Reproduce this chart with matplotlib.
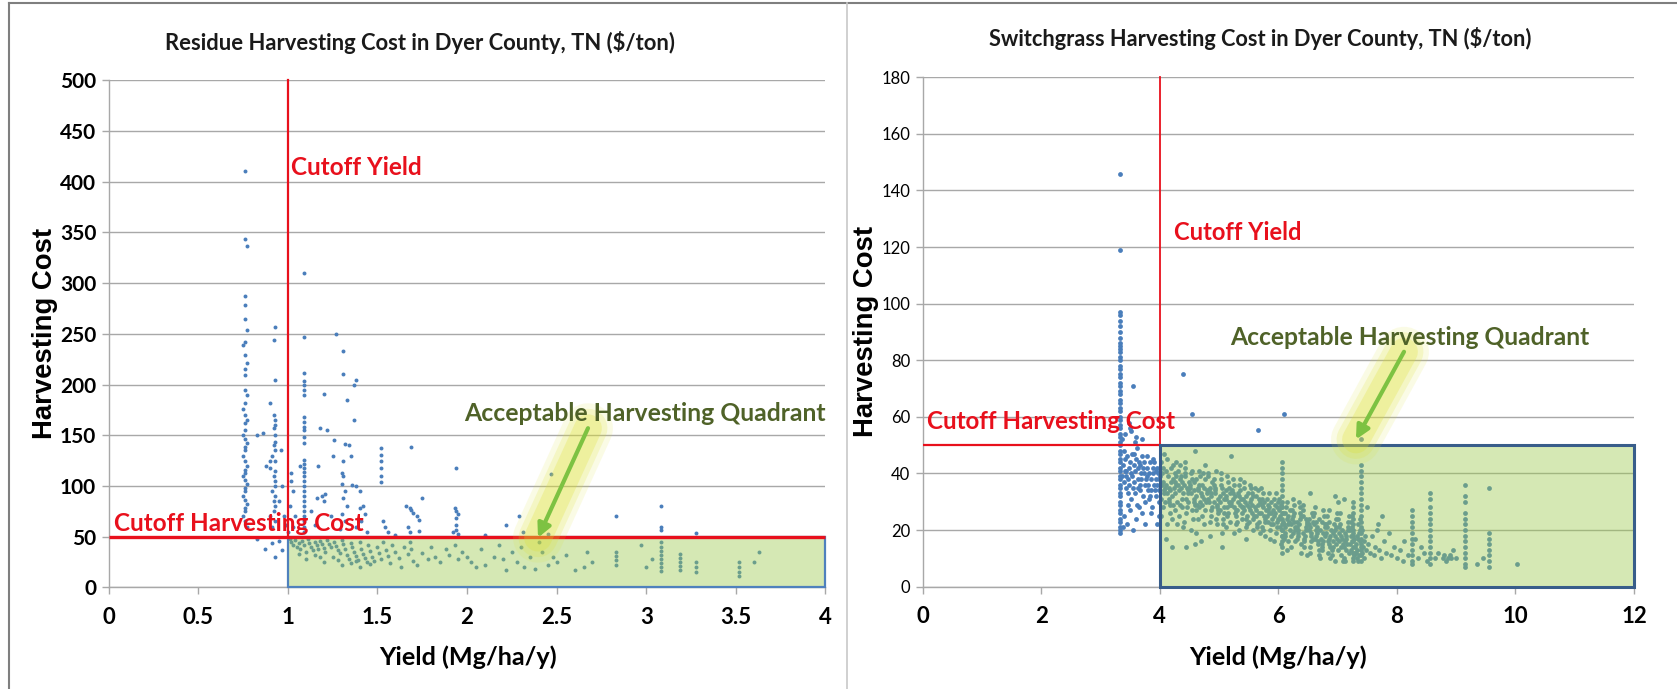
import matplotlib.pyplot as plt
from matplotlib.patches import Rectangle
from matplotlib.lines import Line2D

# =====================================================================
# DATA
# =====================================================================
RES_XTICKS = [0, 0.5, 1, 1.5, 2, 2.5, 3, 3.5, 4]
RES_YTICKS = [0, 50, 100, 150, 200, 250, 300, 350, 400, 450, 500]
SG_XTICKS = [0, 2, 4, 6, 8, 10, 12]
SG_YTICKS = [0, 20, 40, 60, 80, 100, 120, 140, 160, 180]

RES_CUTOFF_YIELD = 1.0
SG_CUTOFF_YIELD = 4.0
CUTOFF_COST = 50

# residue: tall column near 0.76 Mg/ha/y
res_col1_y = [411, 344, 337, 287, 278, 265, 254, 242, 239, 229, 221, 215, 209,
              195, 190, 182, 176, 170, 165, 162, 155, 150, 146, 142, 138, 135,
              130, 125, 120, 116, 113, 110, 106, 102, 98, 95, 90, 86, 82, 78,
              75, 70, 65, 60]
res_col1_x = [0.76, 0.76, 0.77, 0.76, 0.76, 0.76, 0.77, 0.76, 0.75, 0.76, 0.77,
              0.76, 0.76, 0.76, 0.77, 0.76, 0.75, 0.76, 0.77, 0.76, 0.76, 0.75,
              0.76, 0.77, 0.76, 0.76, 0.75, 0.76, 0.77, 0.76, 0.76, 0.75, 0.76,
              0.77, 0.76, 0.76, 0.75, 0.76, 0.77, 0.76, 0.76, 0.75, 0.76, 0.77]

# residue: column near 1.09 Mg/ha/y
res_col2_y = [310, 247, 211, 204, 200, 195, 190, 168, 163, 158, 155, 148, 142,
              126, 122, 118, 114, 110, 105, 100, 95, 90, 85, 80, 75, 70, 65, 60, 55]

# residue: remaining points above the cost cutoff
res_hi_x = [0.83, 0.86, 0.88, 0.90, 0.90, 0.92, 0.93, 0.93, 0.92, 0.93, 0.93,
            0.92, 0.93, 0.93, 0.92, 0.93, 0.91, 0.93, 0.90, 0.93, 0.92, 0.93,
            0.93, 0.91, 0.93, 0.92, 0.93, 0.92, 0.90, 0.93, 0.91, 0.96, 0.97,
            0.95, 0.98, 0.99, 1.02, 1.02, 1.03, 1.01, 1.04, 1.03, 1.00, 1.07,
            1.20, 1.18, 1.22, 1.17, 1.16, 1.19, 1.21, 1.20, 1.24, 1.15, 1.13,
            1.27, 1.31, 1.31, 1.33, 1.32, 1.26, 1.25, 1.31, 1.30, 1.31, 1.30,
            1.32, 1.31, 1.33, 1.30, 1.32, 1.29, 1.38, 1.37, 1.37, 1.36, 1.38,
            1.40, 1.42, 1.40, 1.43, 1.41, 1.38, 1.44, 1.35, 1.34,
            1.52, 1.52, 1.52, 1.52, 1.52, 1.52, 1.53, 1.54, 1.56, 1.60,
            1.69, 1.66, 1.68, 1.69, 1.70, 1.72, 1.73, 1.75, 1.73, 1.67, 1.68,
            1.94, 1.93, 1.94, 1.95, 1.94, 1.94, 1.94, 1.95, 1.92,
            2.22, 2.29, 2.31, 2.47, 2.83, 3.08, 3.08, 3.08, 3.28, 2.10, 2.45,
            0.83, 0.87, 0.91, 0.93, 0.97, 0.95]
res_hi_y = [150, 152, 120, 125, 182, 244, 257, 205, 170, 165, 160,
            157, 150, 143, 140, 135, 130, 125, 118, 115, 110, 105,
            100, 95, 90, 85, 80, 75, 70, 65, 60, 135, 100,
            85, 70, 62, 113, 105, 95, 80, 70, 60, 55, 120,
            191, 157, 155, 120, 88, 90, 92, 85, 70, 62, 75,
            250, 233, 210, 185, 141, 145, 130, 125, 113, 110, 102,
            95, 88, 80, 72, 65, 58, 205, 200, 165, 101, 100,
            95, 80, 78, 72, 65, 60, 55, 130, 140,
            137, 131, 125, 118, 110, 104, 65, 60, 55, 52,
            138, 80, 78, 76, 73, 70, 66, 88, 56, 60, 55,
            118, 78, 75, 72, 68, 62, 57, 53, 55,
            62, 70, 55, 112, 70, 80, 60, 57, 54, 52, 53,
            48, 38, 44, 30, 37, 46]

# residue: points inside the acceptable quadrant
res_lo_x = [1.01, 1.02, 1.03, 1.04, 1.05, 1.06, 1.07, 1.08, 1.09, 1.10, 1.11,
            1.12, 1.13, 1.14, 1.15, 1.16, 1.17, 1.18, 1.19, 1.20, 1.21, 1.22,
            1.23, 1.24, 1.25, 1.26, 1.27, 1.28, 1.29, 1.30, 1.31, 1.32, 1.33,
            1.34, 1.35, 1.36, 1.37, 1.38, 1.39, 1.40, 1.41, 1.42, 1.43, 1.44,
            1.45, 1.46, 1.47, 1.48, 1.50, 1.51, 1.52, 1.53, 1.55, 1.56, 1.57,
            1.58, 1.60, 1.62, 1.63, 1.65, 1.67, 1.68, 1.69, 1.70, 1.72, 1.75,
            1.78, 1.80, 1.82, 1.85, 1.88, 1.90, 1.93, 1.95, 1.97,
            1.10, 1.20, 1.30, 1.40, 1.15, 1.35, 1.06, 1.18, 1.28, 1.38, 1.46,
            2.00, 2.02, 2.05, 2.08, 2.10, 2.15, 2.18, 2.20, 2.22, 2.25, 2.28,
            2.30, 2.32, 2.35, 2.38, 2.42, 2.45, 2.48, 2.50, 2.55, 2.60, 2.67,
            2.70, 2.83, 2.83, 2.83, 2.83, 2.97, 3.03, 3.08, 3.08, 3.08, 3.08,
            3.08, 3.08, 3.08, 3.08, 3.19, 3.19, 3.19, 3.19, 3.19, 3.28, 3.28,
            3.28, 3.52, 3.52, 3.52, 3.52, 3.60, 3.63, 2.40, 2.65, 3.00]
res_lo_y = [48, 45, 42, 47, 40, 44, 38, 46, 42, 35, 48,
            44, 40, 37, 45, 42, 38, 46, 43, 39, 35, 47,
            43, 40, 30, 45, 41, 37, 34, 47, 43, 38, 32,
            28, 44, 40, 35, 31, 27, 45, 38, 33, 29, 25,
            42, 36, 30, 26, 40, 34, 28, 45, 37, 31, 24,
            42, 35, 29, 20, 40, 33, 45, 38, 26, 22, 34,
            28, 40, 30, 25, 38, 32, 42, 28, 35,
            28, 25, 22, 20, 32, 24, 33, 30, 27, 26, 23,
            30, 25, 20, 38, 22, 30, 42, 28, 17, 35, 25,
            40, 20, 30, 18, 35, 22, 30, 25, 32, 17, 35,
            25, 35, 31, 27, 22, 42, 28, 45, 40, 36, 32,
            28, 24, 20, 16, 33, 29, 25, 21, 17, 25, 20,
            15, 25, 20, 15, 11, 25, 35, 45, 20, 20]

# switchgrass: dense column at 3.33 Mg/ha/y
sg_col_y = [146, 119, 97, 96, 94, 92, 90, 88, 86, 85, 84, 83, 81, 80, 78, 77,
            75, 74, 72, 71, 69, 68, 66, 65, 63, 62, 60, 59, 57, 56, 54, 53, 51,
            50, 48, 47, 45, 44, 42, 41, 39, 38, 36, 35, 33, 32, 30, 29, 27, 26,
            24, 23, 21, 20, 19]

# switchgrass: cloud left of the yield cutoff
sg_left_x = [3.37, 3.40, 3.42, 3.38, 3.41, 3.44, 3.39, 3.43, 3.46, 3.45, 3.48,
             3.47, 3.50, 3.52, 3.49, 3.51, 3.54, 3.56, 3.53, 3.55, 3.58, 3.57,
             3.60, 3.62, 3.59, 3.61, 3.64, 3.63, 3.66, 3.65, 3.68, 3.67, 3.70,
             3.72, 3.69, 3.71, 3.74, 3.73, 3.76, 3.75, 3.78, 3.77, 3.80, 3.79,
             3.82, 3.81, 3.84, 3.83, 3.86, 3.85, 3.88, 3.87, 3.90, 3.89, 3.92,
             3.91, 3.94, 3.93, 3.96, 3.95, 3.98, 3.97, 3.99, 3.99,
             3.40, 3.45, 3.50, 3.55, 3.38, 3.65, 3.70, 3.60, 3.75, 3.85, 3.95,
             3.98, 3.52, 3.60, 3.48, 3.55, 3.42, 3.50, 3.70, 3.58,
             3.36, 3.44, 3.57, 3.63, 3.79, 3.88, 3.93, 3.67, 3.46, 3.82]
sg_left_y = [52, 48, 45, 43, 41, 39, 37, 35, 33, 46, 42,
             38, 44, 40, 36, 31, 47, 43, 39, 35, 41, 37,
             45, 49, 33, 29, 42, 38, 36, 44, 40, 34, 46,
             42, 38, 32, 44, 40, 36, 30, 42, 38, 34, 46,
             40, 36, 32, 44, 38, 34, 42, 28, 36, 40, 34,
             44, 38, 32, 36, 42, 34, 40, 30, 38,
             25, 22, 27, 20, 21, 28, 26, 24, 22, 26, 22,
             25, 55, 53, 58, 71, 54, 56, 52, 51,
             39, 41, 47, 35, 39, 45, 41, 43, 29, 31]

# switchgrass: main cloud inside the acceptable quadrant (one row per 0.1 yield)
sg_main_x = [
    4.01, 4.02, 4.03, 4.04, 4.05, 4.06, 4.07, 4.08, 4.09, 4.02, 4.05, 4.07, 4.04, 4.09,
    4.13, 4.11, 4.17, 4.19, 4.12, 4.15, 4.18, 4.14, 4.16, 4.11, 4.19, 4.13, 4.17, 4.15,
    4.25, 4.21, 4.28, 4.23, 4.26, 4.22, 4.29, 4.24, 4.27, 4.21, 4.26, 4.28, 4.23, 4.25,
    4.34, 4.37, 4.31, 4.39, 4.33, 4.36, 4.32, 4.38, 4.35, 4.31, 4.37, 4.34, 4.39, 4.36,
    4.41, 4.46, 4.43, 4.48, 4.42, 4.45, 4.49, 4.44, 4.47, 4.42, 4.48, 4.41, 4.46, 4.43,
    4.57, 4.52, 4.55, 4.51, 4.58, 4.54, 4.56, 4.53, 4.59, 4.55, 4.51, 4.57, 4.53, 4.58,
    4.62, 4.68, 4.64, 4.61, 4.66, 4.69, 4.63, 4.67, 4.65, 4.61, 4.68, 4.64, 4.66, 4.62,
    4.74, 4.71, 4.77, 4.73, 4.79, 4.72, 4.76, 4.78, 4.75, 4.72, 4.77, 4.74, 4.79, 4.71,
    4.86, 4.83, 4.81, 4.88, 4.84, 4.87, 4.82, 4.89, 4.85, 4.83, 4.87, 4.81, 4.86, 4.84,
    4.93, 4.97, 4.91, 4.95, 4.99, 4.92, 4.96, 4.94, 4.98, 4.91, 4.95, 4.97, 4.93, 4.99,
    5.01, 5.05, 5.08, 5.03, 5.06, 5.02, 5.09, 5.04, 5.07, 5.05, 5.01, 5.08, 5.03, 5.06,
    5.14, 5.11, 5.17, 5.13, 5.19, 5.12, 5.16, 5.18, 5.15, 5.11, 5.17, 5.14, 5.19, 5.12,
    5.22, 5.27, 5.24, 5.29, 5.21, 5.25, 5.28, 5.23, 5.26, 5.21, 5.29, 5.24, 5.27, 5.25,
    5.36, 5.32, 5.39, 5.34, 5.31, 5.37, 5.33, 5.38, 5.35, 5.32, 5.36, 5.39, 5.31, 5.34,
    5.41, 5.45, 5.48, 5.43, 5.46, 5.42, 5.49, 5.44, 5.47, 5.43, 5.48, 5.41, 5.46, 5.45,
    5.53, 5.58, 5.51, 5.56, 5.54, 5.59, 5.52, 5.57, 5.55, 5.51, 5.58, 5.53, 5.56, 5.54,
    5.64, 5.61, 5.67, 5.62, 5.69, 5.65, 5.63, 5.68, 5.66, 5.62, 5.67, 5.64, 5.69, 5.61,
    5.71, 5.76, 5.73, 5.79, 5.74, 5.78, 5.72, 5.77, 5.75, 5.73, 5.78, 5.71, 5.76, 5.74,
    5.85, 5.82, 5.88, 5.81, 5.86, 5.83, 5.89, 5.84, 5.87, 5.82, 5.86, 5.81, 5.88, 5.85,
    5.92, 5.97, 5.94, 5.99, 5.91, 5.96, 5.93, 5.98, 5.95, 5.91, 5.97, 5.93, 5.99, 5.96,
    6.03, 6.08, 6.01, 6.06, 6.04, 6.09, 6.02, 6.05, 6.08, 6.01, 6.06, 6.03, 6.09, 6.04,
    6.14, 6.11, 6.17, 6.13, 6.19, 6.12, 6.16, 6.18, 6.15, 6.11, 6.17, 6.14, 6.19, 6.12,
    6.21, 6.26, 6.23, 6.28, 6.24, 6.29, 6.22, 6.27, 6.25, 6.23, 6.28, 6.21, 6.26, 6.24,
    6.35, 6.31, 6.38, 6.33, 6.36, 6.32, 6.39, 6.34, 6.37, 6.31, 6.36, 6.38, 6.33, 6.35,
    6.42, 6.47, 6.44, 6.49, 6.41, 6.46, 6.43, 6.48, 6.45, 6.42, 6.47, 6.44, 6.49, 6.41,
    6.53, 6.58, 6.51, 6.56, 6.54, 6.59, 6.52, 6.57, 6.55, 6.51, 6.56, 6.53, 6.58, 6.54,
    6.64, 6.61, 6.67, 6.63, 6.69, 6.62, 6.66, 6.68, 6.65, 6.61, 6.67, 6.64, 6.69, 6.62,
    6.71, 6.76, 6.73, 6.79, 6.74, 6.78, 6.72, 6.77, 6.75, 6.73, 6.78, 6.71, 6.76, 6.74,
    6.85, 6.82, 6.88, 6.81, 6.86, 6.83, 6.89, 6.84, 6.87, 6.82, 6.86, 6.81, 6.88, 6.85,
    6.92, 6.97, 6.94, 6.99, 6.91, 6.96, 6.93, 6.98, 6.95, 6.91, 6.97, 6.93, 6.99, 6.96,
    7.03, 7.08, 7.01, 7.06, 7.04, 7.09, 7.02, 7.05, 7.08, 7.01, 7.06, 7.03, 7.09, 7.04,
    7.14, 7.11, 7.17, 7.13, 7.19, 7.12, 7.16, 7.18, 7.15, 7.11, 7.17, 7.14, 7.19, 7.12,
    7.21, 7.26, 7.23, 7.28, 7.24, 7.29, 7.22, 7.27, 7.25, 7.23, 7.28, 7.21, 7.26, 7.24,
    7.35, 7.32, 7.38, 7.31, 7.36, 7.33, 7.39, 7.34, 7.37, 7.32, 7.36, 7.31, 7.38, 7.35,
    7.42, 7.45, 7.48, 7.41, 7.44, 7.47, 7.43,
]
sg_main_y = [
    39, 44, 31, 36, 28, 42, 34, 47, 30, 25, 37, 33, 40, 35,
    33, 41, 29, 37, 45, 35, 26, 39, 31, 36, 42, 22, 34, 30,
    40, 32, 36, 43, 27, 38, 30, 35, 44, 24, 33, 39, 29, 37,
    29, 37, 41, 33, 25, 39, 34, 28, 43, 36, 31, 38, 21, 35,
    36, 28, 42, 33, 39, 31, 37, 26, 34, 40, 30, 23, 35, 44,
    34, 40, 27, 36, 31, 38, 24, 33, 29, 41, 35, 30, 20, 37,
    38, 30, 35, 27, 41, 33, 29, 36, 24, 32, 39, 34, 28, 19,
    31, 36, 27, 40, 33, 25, 38, 30, 35, 29, 43, 22, 34, 32,
    27, 34, 31, 37, 23, 32, 39, 28, 35, 30, 25, 40, 33, 18,
    33, 28, 36, 24, 31, 38, 29, 34, 26, 30, 41, 22, 35, 27,
    30, 35, 26, 38, 22, 32, 28, 36, 33, 19, 27, 31, 40, 24,
    25, 31, 35, 28, 33, 21, 37, 29, 26, 34, 30, 39, 23, 32,
    34, 26, 31, 22, 29, 36, 27, 33, 19, 30, 25, 38, 32, 28,
    29, 33, 24, 36, 27, 31, 20, 26, 34, 30, 38, 28, 23, 32,
    31, 24, 29, 35, 21, 27, 33, 30, 25, 37, 22, 28, 32, 17,
    27, 32, 23, 29, 35, 25, 30, 20, 33, 28, 24, 36, 26, 31,
    22, 28, 31, 25, 19, 34, 27, 23, 29, 32, 26, 21, 30, 35,
    26, 30, 21, 27, 33, 24, 29, 18, 28, 31, 23, 35, 25, 20,
    28, 23, 26, 31, 20, 27, 24, 33, 22, 29, 17, 25, 30, 26,
    25, 21, 29, 24, 27, 19, 31, 23, 26, 22, 28, 16, 30, 33,
    21, 26, 24, 18, 29, 22, 27, 15, 23, 31, 20, 25, 17, 28,
    24, 19, 22, 28, 20, 26, 16, 23, 30, 21, 25, 13, 27, 18,
    18, 23, 27, 20, 25, 16, 22, 29, 19, 24, 21, 14, 26, 31,
    22, 17, 25, 20, 28, 23, 15, 19, 26, 21, 24, 12, 18, 30,
    19, 24, 16, 22, 27, 20, 14, 23, 18, 25, 21, 17, 11, 29,
    21, 17, 24, 19, 14, 23, 20, 26, 16, 22, 18, 12, 25, 33,
    18, 22, 15, 20, 24, 17, 21, 13, 19, 26, 16, 23, 11, 28,
    20, 16, 23, 18, 13, 21, 17, 25, 19, 14, 22, 10, 27, 15,
    17, 21, 14, 19, 23, 16, 20, 12, 18, 25, 15, 22, 10, 27,
    19, 15, 22, 17, 13, 20, 16, 24, 18, 11, 21, 14, 26, 9,
    16, 20, 13, 18, 22, 15, 19, 11, 17, 24, 14, 21, 9, 26,
    18, 14, 21, 16, 12, 19, 15, 23, 17, 10, 20, 13, 25, 9,
    15, 19, 13, 17, 21, 14, 18, 11, 16, 23, 12, 20, 9, 25,
    17, 13, 20, 15, 11, 18, 14, 22, 16, 10, 19, 12, 24, 9,
    20, 16, 13, 12, 10, 18, 14,
]

# switchgrass: sparse tail and outliers
sg_tail_x = [7.52, 7.55, 7.58, 7.61, 7.63, 7.66, 7.70, 7.74, 7.78, 7.82, 7.86,
             7.90, 7.95, 8.00, 8.05, 8.10, 8.12, 8.18, 8.35, 8.40, 8.45, 8.50,
             8.65, 8.70, 8.78, 8.80, 8.83, 8.86, 8.90, 8.92, 8.95, 9.00, 9.35,
             9.45, 8.30, 7.68, 7.50, 7.10, 6.95, 7.00, 7.75,
             4.40, 4.55, 5.65, 6.10, 4.60, 5.20, 4.10, 4.20, 4.45, 4.70, 5.05,
             4.30, 4.60]
sg_tail_y = [15, 12, 18, 11, 14, 20, 13, 10, 16, 12, 19,
             11, 14, 10, 13, 9, 16, 11, 10, 14, 12, 9,
             10, 12, 10, 11, 9, 10, 11, 10, 13, 10, 8,
             10, 17, 22, 28, 31, 32, 30, 25,
             75, 61, 55.5, 61, 48, 46, 17, 14, 14, 16, 14,
             22, 15]

# switchgrass: vertical streaks at repeated yields
sg_streak_x = [6.07] * 17 + [7.26] * 11 + [7.40] * 19 + [8.25] * 11 \
    + [8.56] * 13 + [9.15] * 14 + [9.55] * 8 + [10.02]
sg_streak_y = [44, 42, 40, 38, 36, 34, 32, 30, 28, 26, 24, 22, 20, 18, 16, 14, 12,
               30, 28, 26, 24, 22, 20, 18, 16, 14, 12, 10,
               52, 43, 41, 39, 37, 35, 33, 31, 29, 27, 25, 23, 21, 19, 17, 15, 13, 11, 9,
               27, 25, 23, 21, 19, 17, 15, 13, 11, 9, 8,
               33, 31, 28, 26, 24, 22, 20, 18, 16, 14, 12, 10, 8,
               36, 32, 30, 26, 24, 22, 20, 18, 16, 14, 12, 10, 8, 7,
               35, 19, 17, 15, 13, 11, 9, 7,
               8]

# =====================================================================
# STYLE
# =====================================================================
NARROW = ["Lato", "DejaVu Sans"]
WIDE = ["Liberation Sans", "DejaVu Sans"]
DOT_BLUE = "#4A7EBB"
RED = "#E8101C"
DARK_GREEN = "#4F6228"
ARROW_GREEN = "#7DC242"
GLOW = "#DDE030"
FILL = (155 / 255, 202 / 255, 77 / 255)
GRID = "#A8A8A8"

plt.rcParams["font.family"] = NARROW

fig = plt.figure(figsize=(16.77, 6.89), dpi=100)
renderer = fig.canvas.get_renderer()


def fit_width(txt, width_px, vertical=False):
    """Scale a text's font size so that it spans width_px pixels."""
    bb = txt.get_window_extent(renderer)
    cur = bb.height if vertical else bb.width
    txt.set_fontsize(txt.get_fontsize() * width_px / cur)


def style_axes(ax, xticks, yticks, ytick_weight, ytick_size):
    ax.set_xlim(xticks[0], xticks[-1])
    ax.set_ylim(yticks[0], yticks[-1])
    ax.set_xticks(xticks)
    ax.set_yticks(yticks)
    ax.set_xticklabels([f"{v:g}" for v in xticks], fontweight="bold",
                       fontsize=16)
    ax.set_yticklabels([f"{v:g}" for v in yticks], fontweight=ytick_weight,
                       fontsize=ytick_size)
    for s in ["top", "right"]:
        ax.spines[s].set_visible(False)
    for s in ["left", "bottom"]:
        ax.spines[s].set_color(GRID)
        ax.spines[s].set_linewidth(1.0)
    ax.tick_params(axis="both", direction="out", length=5, color=GRID, width=1)
    ax.tick_params(axis="x", pad=9)
    ax.tick_params(axis="y", pad=4)
    ax.grid(True, axis="y", color=GRID, linewidth=1.0, zorder=0)
    ax.set_axisbelow(True)


def draw_arrow(ax, start, end):
    # soft yellow glow behind the arrow
    for lw, a in [(36, 0.12), (28, 0.18), (20, 0.25)]:
        ax.plot([start[0], end[0]], [start[1], end[1]], color=GLOW, lw=lw,
                alpha=a, solid_capstyle="round", zorder=5)
    ax.annotate("", xy=end, xytext=start, zorder=6,
                arrowprops=dict(arrowstyle="-|>", color=ARROW_GREEN, lw=3,
                                mutation_scale=20, shrinkA=0, shrinkB=0))


# =====================================================================
# LEFT PANEL — RESIDUE
# =====================================================================
ax1 = fig.add_axes([0.0648, 0.1475, 0.4274, 0.7358])
for xs, ys in [(res_col1_x, res_col1_y),
               ([1.09] * len(res_col2_y), res_col2_y),
               (res_hi_x, res_hi_y), (res_lo_x, res_lo_y)]:
    ax1.scatter(xs, ys, s=8, color=DOT_BLUE, linewidths=0, zorder=2)

ax1.add_patch(Rectangle((RES_CUTOFF_YIELD, 0), 4 - RES_CUTOFF_YIELD, CUTOFF_COST,
                        facecolor=FILL, alpha=0.42, edgecolor="none", zorder=3))
ax1.add_patch(Rectangle((RES_CUTOFF_YIELD, 0), 4 - RES_CUTOFF_YIELD, CUTOFF_COST,
                        fill=False, edgecolor="#4F81BD", lw=1.6, zorder=4,
                        clip_on=False))
ax1.plot([0, 4], [CUTOFF_COST, CUTOFF_COST], color=RED, lw=2.4, zorder=4,
         solid_capstyle="butt", clip_on=False)
ax1.plot([RES_CUTOFF_YIELD, RES_CUTOFF_YIELD], [CUTOFF_COST, 500], color=RED,
         lw=1.6, zorder=4, clip_on=False)

style_axes(ax1, RES_XTICKS, RES_YTICKS, "bold", 15)

t = ax1.text(1.02, 414, "Cutoff Yield", color=RED, fontweight="bold",
             fontsize=18, ha="left", va="center", zorder=7)
fit_width(t, 131)
t = ax1.text(0.03, 63, "Cutoff Harvesting Cost", color=RED, fontweight="bold",
             fontsize=18, ha="left", va="center", zorder=7)
fit_width(t, 250)
t = ax1.text(4.0, 171, "Acceptable Harvesting Quadrant", color=DARK_GREEN,
             fontweight="bold", fontsize=18, ha="right", va="center", zorder=7)
fit_width(t, 363)
draw_arrow(ax1, (2.675, 157), (2.396, 49))

# =====================================================================
# RIGHT PANEL — SWITCHGRASS
# =====================================================================
ax2 = fig.add_axes([0.5501, 0.1486, 0.4243, 0.7392])
for xs, ys in [([3.33] * len(sg_col_y), sg_col_y), (sg_left_x, sg_left_y),
               (sg_main_x, sg_main_y), (sg_tail_x, sg_tail_y),
               (sg_streak_x, sg_streak_y)]:
    ax2.scatter(xs, ys, s=12, color=DOT_BLUE, linewidths=0, zorder=2)

ax2.add_patch(Rectangle((SG_CUTOFF_YIELD, 0), 12 - SG_CUTOFF_YIELD, CUTOFF_COST,
                        facecolor=FILL, alpha=0.42, edgecolor="none", zorder=3))
ax2.plot([0, SG_CUTOFF_YIELD], [CUTOFF_COST, CUTOFF_COST], color=RED, lw=1.6,
         zorder=4)
ax2.plot([SG_CUTOFF_YIELD, SG_CUTOFF_YIELD], [CUTOFF_COST, 180], color=RED,
         lw=1.3, zorder=4, clip_on=False)
ax2.add_patch(Rectangle((SG_CUTOFF_YIELD, 0), 12 - SG_CUTOFF_YIELD, CUTOFF_COST,
                        fill=False, edgecolor="#385D8A", lw=2.2, zorder=4,
                        clip_on=False))

style_axes(ax2, SG_XTICKS, SG_YTICKS, "normal", 12)

t = ax2.text(4.24, 125, "Cutoff Yield", color=RED, fontweight="bold",
             fontsize=18, ha="left", va="center", zorder=7)
fit_width(t, 128)
t = ax2.text(0.07, 58.5, "Cutoff Harvesting Cost", color=RED, fontweight="bold",
             fontsize=18, ha="left", va="center", zorder=7)
fit_width(t, 249)
t = ax2.text(5.18, 88, "Acceptable Harvesting Quadrant", color=DARK_GREEN,
             fontweight="bold", fontsize=18, ha="left", va="center", zorder=7)
fit_width(t, 361)
draw_arrow(ax2, (8.12, 83), (7.31, 52))

# =====================================================================
# TITLES & AXIS LABELS
# =====================================================================
t = fig.text(0.2507, 0.9382, "Residue Harvesting Cost in Dyer County, TN ($/ton)",
             fontweight="bold", fontsize=16, ha="center", va="center",
             color="#1A1A1A")
fit_width(t, 511)
t = fig.text(0.7513, 0.9438,
             "Switchgrass Harvesting Cost in Dyer County, TN ($/ton)",
             fontweight="bold", fontsize=16, ha="center", va="center",
             color="#1A1A1A")
fit_width(t, 544)

for xc in [0.2791, 0.7621]:
    t = fig.text(xc, 0.0464, "Yield (Mg/ha/y)", fontweight="bold",
                 fontsize=18, ha="center", va="center")
    fit_width(t, 178)

for xc, yc in [(0.0271, 0.516), (0.5164, 0.5189)]:
    t = fig.text(xc, yc, "Harvesting Cost", family=WIDE, fontweight="bold",
                 fontsize=20, rotation=90, ha="center", va="center")
    fit_width(t, 211, vertical=True)

# outer frame and panel divider
frame_kw = dict(color="#7F7F7F", lw=1.5, transform=fig.transFigure)
fig.add_artist(Line2D([9 / 1677, 1], [1 - 3 / 689, 1 - 3 / 689], **frame_kw))
fig.add_artist(Line2D([9 / 1677, 9 / 1677], [0, 1 - 3 / 689], **frame_kw))
fig.add_artist(Line2D([847 / 1677, 847 / 1677], [0, 1 - 3 / 689],
                      color="#C8C8C8", lw=1.2, transform=fig.transFigure))

fig.savefig("out.png", dpi=100)
